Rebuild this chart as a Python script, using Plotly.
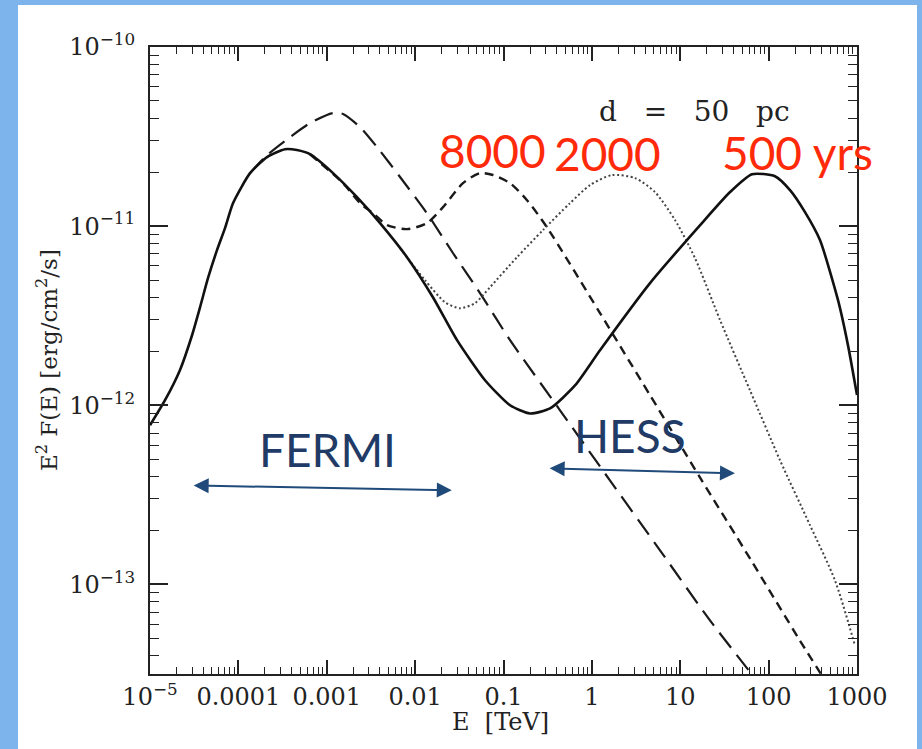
import math
import plotly.graph_objects as go

# ---------------- data (E in TeV, E^2 F(E) in erg/cm^2/s) ----------------
e_500 = [1e-5, 1.479e-5, 2.18e-5, 2.99e-5, 3.68e-5, 4.53e-5, 5.73e-5, 7.06e-5, 8.69e-5,
         1.355e-4, 2.11e-4, 3.37e-4, 4.60e-4, 6.46e-4, 1.178e-3, 2.20e-3, 4.01e-3, 8.09e-3,
         0.0159, 0.0298, 0.0618, 0.1186, 0.1995, 0.336, 0.644, 1.236, 4.55, 16.7, 36.6,
         64.9, 118, 174.6, 258, 381, 610, 791, 1000]
f_500 = [7.73e-13, 1.067e-12, 1.57e-12, 2.46e-12, 3.52e-12, 5.12e-12, 7.35e-12, 9.75e-12,
         1.343e-11, 1.977e-11, 2.43e-11, 2.69e-11, 2.66e-11, 2.52e-11, 1.977e-11, 1.45e-11,
         1.04e-11, 6.71e-12, 4.01e-12, 2.31e-12, 1.38e-12, 1.0e-12, 9.0e-13, 9.6e-13,
         1.29e-12, 2.03e-12, 4.81e-12, 1.01e-11, 1.55e-11, 1.95e-11, 1.90e-11, 1.589e-11,
         1.197e-11, 8.36e-12, 3.86e-12, 2.16e-12, 1.14e-12]

e_2000 = [6.75e-3, 0.01294, 0.0218, 0.0322, 0.0476, 0.0703, 0.1422, 0.280, 0.565, 0.953,
          1.69, 3.08, 5.18, 8.73, 14.7, 28.2, 61.5, 134.6, 294, 564, 948]
f_2000 = [7.53e-12, 4.99e-12, 3.76e-12, 3.48e-12, 3.72e-12, 4.56e-12, 6.71e-12, 9.51e-12,
          1.343e-11, 1.694e-11, 1.928e-11, 1.854e-11, 1.549e-11, 1.081e-11, 6.62e-12,
          2.99e-12, 1.213e-12, 4.93e-13, 2.14e-13, 1.052e-13, 4.56e-14]

e_8000 = [6.46e-4, 1.528e-3, 2.38e-3, 3.33e-3, 4.81e-3, 8.09e-3, 0.0136, 0.0207, 0.0348,
          0.0542, 0.076, 0.1186, 0.1845, 0.310, 1.236, 4.55, 16.7, 61.5, 226, 435]
f_8000 = [2.52e-11, 1.738e-11, 1.343e-11, 1.183e-11, 1.014e-11, 9.62e-12, 1.04e-11,
          1.277e-11, 1.738e-11, 1.977e-11, 1.93e-11, 1.738e-11, 1.396e-11, 9.86e-12,
          3.27e-12, 1.138e-12, 3.96e-13, 1.396e-13, 4.86e-14, 2.91e-14]

e_old = [1.355e-4, 2.11e-4, 3.84e-4, 6.46e-4, 1.178e-3, 1.528e-3, 2.38e-3, 3.71e-3,
         6.75e-3, 0.0136, 0.0269, 0.0542, 0.1186, 0.436, 1.60, 5.90, 21.7, 79.8]
f_old = [1.977e-11, 2.49e-11, 3.14e-11, 3.76e-11, 4.28e-11, 4.23e-11, 3.57e-11, 2.76e-11,
         1.88e-11, 1.18e-11, 7.06e-12, 4.23e-12, 2.31e-12, 9.38e-13, 3.81e-13, 1.55e-13,
         6.30e-14, 2.76e-14]

x_tickvals = [1e-5, 1e-4, 1e-3, 1e-2, 0.1, 1, 10, 100, 1000]
x_ticktext = ["10<sup>\u22125</sup>", "0.0001", "0.001", "0.01", "0.1", "1", "10", "100", "1000"]
y_tickvals = [1e-13, 1e-12, 1e-11, 1e-10]
y_ticktext = ["10<sup>\u221213</sup>", "10<sup>\u221212</sup>", "10<sup>\u221211</sup>", "10<sup>\u221210</sup>"]

fermi_range = [3.0e-5, 0.026]
fermi_flux = [3.57e-13, 3.35e-13]
hess_range = [0.32, 41.6]
hess_flux = [4.45e-13, 4.17e-13]

x_minor = [m * 10 ** k for k in range(-5, 3) for m in range(2, 10)]
y_minor = [m * 10 ** k for k in range(-14, -10) for m in range(2, 10)]

# ---------------- figure ----------------
W, H = 922, 749
L, R, T, B = 150, 65, 47, 75
PW, PH = W - L - R, H - T - B


def px(x):
    return (x - L) / PW


def py(y):
    return (H - B - y) / PH


serif = "DejaVu Serif"
sans = "Lato"
red = "#ff2a0a"
navy = "#1f3b66"
ink = "#1a1a1a"

fig = go.Figure()
fig.add_trace(go.Scatter(x=e_old, y=f_old, mode="lines",
                         line=dict(color=ink, width=2.2, dash="19px,9px", shape="spline", smoothing=0.7)))
fig.add_trace(go.Scatter(x=e_8000, y=f_8000, mode="lines",
                         line=dict(color=ink, width=2.4, dash="9px,6px", shape="spline", smoothing=0.7)))
fig.add_trace(go.Scatter(x=e_2000, y=f_2000, mode="lines",
                         line=dict(color="#444444", width=2, dash="2px,2.5px", shape="spline", smoothing=0.7)))
fig.add_trace(go.Scatter(x=e_500, y=f_500, mode="lines",
                         line=dict(color="#111111", width=2.6, shape="spline", smoothing=0.6)))

axis_common = dict(
    type="log", showgrid=False, zeroline=False, showline=True, linecolor="#222", linewidth=2,
    mirror="ticks", ticks="inside", tickcolor="#222", tickwidth=1.5,
    tickfont=dict(family=serif, size=24, color="#222"),
)
fig.update_xaxes(**axis_common, range=[-5, 3], tickmode="array", tickvals=x_tickvals,
                 ticktext=x_ticktext, ticklen=14,
                 minor=dict(ticks="inside", ticklen=7, tickcolor="#222", tickwidth=1.2,
                            tickmode="array", tickvals=x_minor, showgrid=False))
fig.update_yaxes(**axis_common, range=[-13.5, -10], tickmode="array", tickvals=y_tickvals,
                 ticktext=y_ticktext, ticklen=18, ticklabelstandoff=8,
                 minor=dict(ticks="inside", ticklen=9, tickcolor="#222", tickwidth=1.2,
                            tickmode="array", tickvals=y_minor, showgrid=False))

shapes = [dict(type="rect", xref="paper", yref="paper", x0=px(18), x1=px(917), y0=py(760), y1=py(5),
               fillcolor="white", line=dict(width=0), layer="below")]

ann = []
# axis titles
ann.append(dict(xref="paper", yref="paper", x=px(500), y=py(722), text="E  [TeV]", showarrow=False,
                font=dict(family=serif, size=24, color="#222"), xanchor="center", yanchor="middle"))
ann.append(dict(xref="paper", yref="paper", x=px(47), y=py(360),
                text="E<sup>2</sup> F(E) [erg/cm<sup>2</sup>/s]",
                showarrow=False, textangle=-90, font=dict(family=serif, size=23, color="#222"),
                xanchor="center", yanchor="middle"))
# d = 50 pc
sp = "\u00a0\u00a0\u00a0"
ann.append(dict(xref="paper", yref="paper", x=px(694), y=py(111), text="d" + sp + "=" + sp + "50" + sp + "pc",
                showarrow=False, font=dict(family=serif, size=28, color="#222"),
                xanchor="center", yanchor="middle"))
# red age labels
for txt, cx, cy in [("8000", 492, 150), ("2000", 607, 154), ("500 yrs", 797, 152)]:
    ann.append(dict(xref="paper", yref="paper", x=px(cx), y=py(cy), text=txt, showarrow=False,
                    font=dict(family=sans, size=46, color=red), xanchor="center", yanchor="middle"))
for txt, cx, cy in [("FERMI", 327, 449), ("HESS", 630, 435)]:
    ann.append(dict(xref="paper", yref="paper", x=px(cx), y=py(cy), text=txt, showarrow=False,
                    font=dict(family=sans, size=46, color=navy), xanchor="center", yanchor="middle"))

for rng, flx in [(fermi_range, fermi_flux), (hess_range, hess_flux)]:
    ann.append(dict(xref="x", yref="y", axref="x", ayref="y",
                    x=math.log10(rng[1]), y=math.log10(flx[1]),
                    ax=math.log10(rng[0]), ay=math.log10(flx[0]),
                    text="", showarrow=True, arrowside="end+start", arrowhead=2,
                    arrowsize=1.5, arrowwidth=2, arrowcolor="#1f4a7a", standoff=0, startstandoff=0))

fig.update_layout(
    width=W, height=H, margin=dict(l=L, r=R, t=T, b=B),
    paper_bgcolor="#7db4ec", plot_bgcolor="white", showlegend=False,
    shapes=shapes, annotations=ann,
)

fig.write_html("out.html")
